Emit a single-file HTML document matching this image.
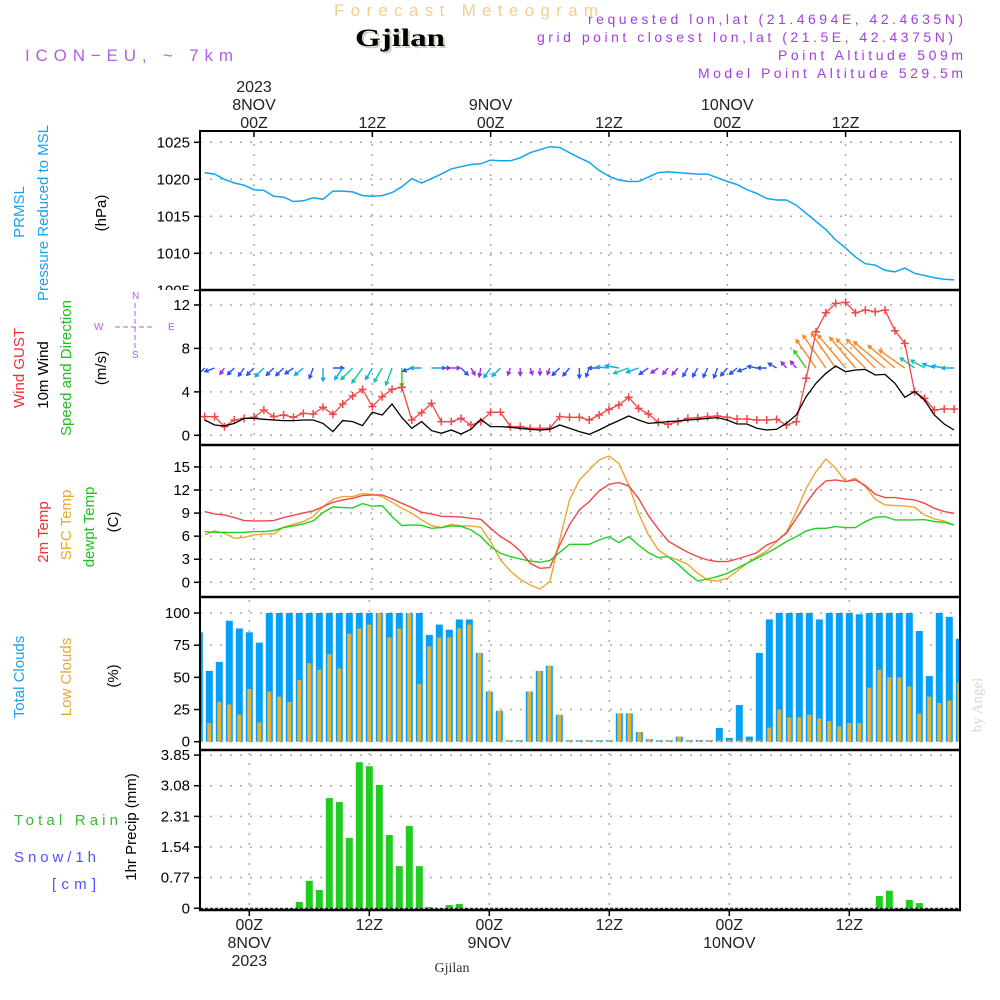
<!DOCTYPE html>
<html><head><meta charset="utf-8"><style>
html,body{margin:0;padding:0;background:#fff;}
svg{display:block;font-family:"Liberation Sans",sans-serif;}
</style></head><body>
<svg id="chart" width="1000" height="1000" viewBox="0 0 1000 1000" xmlns="http://www.w3.org/2000/svg">
<defs>
<clipPath id="plotclip"><rect x="200" y="131" width="760" height="780"/></clipPath>
<clipPath id="pclip"><rect x="150" y="120" width="60" height="170"/></clipPath>
</defs>
<g>
<text x="334" y="16" font-size="17" fill="#f2cf8c" textLength="264" lengthAdjust="spacing">Forecast Meteogram</text>
<text x="357" y="48" font-size="25" font-weight="bold" font-family="Liberation Serif,serif" fill="#c8d4c0" textLength="90" lengthAdjust="spacingAndGlyphs">Gjilan</text>
<text x="355" y="46" font-size="25" font-weight="bold" font-family="Liberation Serif,serif" fill="#000" textLength="90" lengthAdjust="spacingAndGlyphs">Gjilan</text>
<text x="25" y="61" font-size="17" fill="#b060e8" textLength="208" lengthAdjust="spacing">ICON−EU, ~ 7km</text>
<text x="588" y="24" font-size="14" fill="#a040e0" textLength="375" lengthAdjust="spacing">requested lon,lat (21.4694E, 42.4635N)</text>
<text x="537" y="42" font-size="14" fill="#a040e0" textLength="416" lengthAdjust="spacing">grid point closest lon,lat (21.5E, 42.4375N)</text>
<text x="778" y="60" font-size="14" fill="#a040e0" textLength="185" lengthAdjust="spacing">Point Altitude 509m</text>
<text x="698" y="78" font-size="14" fill="#a040e0" textLength="265" lengthAdjust="spacing">Model Point Altitude 529.5m</text>
</g>
<g font-size="15">
<text transform="translate(24,212) rotate(-90)" text-anchor="middle" fill="#1aa0f0">PRMSL</text>
<text transform="translate(48,213) rotate(-90)" text-anchor="middle" fill="#1aa0f0">Pressure Reduced to MSL</text>
<text transform="translate(106,213) rotate(-90)" text-anchor="middle" fill="#000">(hPa)</text>
<text transform="translate(24,368) rotate(-90)" text-anchor="middle" fill="#f03030">Wind GUST</text>
<text transform="translate(48,375) rotate(-90)" text-anchor="middle" fill="#000">10m Wind</text>
<text transform="translate(71,368) rotate(-90)" text-anchor="middle" fill="#20c020">Speed and Direction</text>
<text transform="translate(106,368) rotate(-90)" text-anchor="middle" fill="#000">(m/s)</text>
<text transform="translate(48,532) rotate(-90)" text-anchor="middle" fill="#f03030">2m Temp</text>
<text transform="translate(71,525) rotate(-90)" text-anchor="middle" fill="#e8a830">SFC Temp</text>
<text transform="translate(94,527) rotate(-90)" text-anchor="middle" fill="#20c020">dewpt Temp</text>
<text transform="translate(118,522) rotate(-90)" text-anchor="middle" fill="#000">(C)</text>
<text transform="translate(24,677) rotate(-90)" text-anchor="middle" fill="#1aa0f0">Total Clouds</text>
<text transform="translate(71,677) rotate(-90)" text-anchor="middle" fill="#e8a830">Low Clouds</text>
<text transform="translate(118,676) rotate(-90)" text-anchor="middle" fill="#000">(%)</text>
<text transform="translate(136,827) rotate(-90)" text-anchor="middle" fill="#000">1hr Precip (mm)</text>
<text x="14" y="825" fill="#30c030" textLength="104" lengthAdjust="spacing">Total   Rain</text>
<text x="14" y="862" fill="#5050ff" textLength="82" lengthAdjust="spacing">Snow/1h</text>
<text x="52" y="889" fill="#5050ff" textLength="44" lengthAdjust="spacing">[cm]</text>
<g fill="#b060e8" stroke="#b060e8" font-size="10">
<text x="94" y="330" stroke="none">W</text>
<text x="168" y="330" stroke="none">E</text>
<text x="132" y="299" stroke="none">N</text>
<text x="132" y="358" stroke="none">S</text>
<line x1="115" y1="327" x2="155" y2="327" stroke-dasharray="5,3"/>
<line x1="135" y1="303" x2="135" y2="348" stroke-dasharray="5,3"/>
</g>
</g>
<text transform="translate(982,705) rotate(-90)" text-anchor="middle" font-size="15" font-family="Liberation Serif,serif" fill="#d8d8d8">by Angel</text>
<text x="452" y="972" text-anchor="middle" font-size="14" font-family="Liberation Serif,serif" fill="#333">Gjilan</text>
<g id="grid"></g>
<g id="marks" clip-path="url(#plotclip)"></g>
<g id="axes"></g>
</svg>
<script>
// ---------- DATA ----------
const pressure = [1020.9,1020.7,1020.0,1019.5,1019.2,1018.6,1018.5,1017.7,1017.6,1017.0,1017.1,1017.5,1017.3,1018.4,1018.4,1018.3,1017.8,1017.7,1017.8,1018.2,1019.0,1020.1,1019.5,1020.1,1020.7,1021.4,1021.7,1022.0,1022.1,1022.6,1022.5,1022.5,1022.9,1023.6,1024.0,1024.4,1024.3,1023.6,1022.9,1022.3,1021.2,1020.4,1019.9,1019.7,1019.7,1020.3,1020.9,1021.0,1020.9,1020.8,1020.7,1020.7,1020.2,1019.7,1019.3,1018.6,1018.1,1017.4,1017.2,1017.2,1016.5,1015.4,1014.3,1013.2,1011.8,1010.7,1009.5,1008.6,1008.4,1007.7,1007.5,1008.0,1007.3,1007.0,1006.7,1006.5,1006.4];
const gust = [1.72,1.72,0.80,1.41,1.56,1.66,2.33,1.72,1.87,1.66,2.02,1.96,2.58,1.93,2.88,3.62,4.23,2.64,3.56,4.23,4.42,1.41,2.09,2.94,1.26,1.26,1.56,0.95,1.26,2.12,2.12,0.80,0.80,0.64,0.64,0.64,1.72,1.66,1.66,
1.41,1.87,2.39,2.79,3.50,2.48,1.96,1.20,1.01,1.26,1.56,1.62,1.72,1.78,1.66,1.50,1.50,1.41,1.41,1.47,0.95,1.26,5.25,9.54,11.29,12.15,12.24,11.29,11.53,11.38,11.53,9.63,8.47,4.02,3.40,2.33,2.42,2.42];
const wind = [1.41,0.95,0.86,1.10,1.56,1.56,1.47,1.41,1.35,1.35,1.41,1.41,1.10,0.34,1.35,1.26,0.89,2.12,1.87,2.88,1.63,0.64,1.26,0.43,0.18,0.49,0.12,0.55,1.47,0.80,0.80,0.74,0.64,0.55,0.49,0.55,0.95,0.64,0.34,
0.09,0.49,0.95,1.35,1.78,1.41,1.10,1.17,1.26,1.32,1.41,1.47,1.56,1.63,1.41,1.04,1.04,0.64,0.49,0.55,1.10,1.87,3.56,4.79,5.71,6.38,5.86,6.01,6.07,5.55,5.61,4.79,3.50,4.02,3.25,1.87,1.04,0.49];
const windDir = [225,250,215,225,215,225,225,225,225,235,230,200,180,90,215,225,215,210,210,200,180,250,270,90,90,90,135,150,190,215,225,200,180,160,180,200,225,220,180,
200,270,275,280,250,250,235,235,220,220,210,210,205,200,220,230,250,280,270,300,320,320,325,325,325,325,320,320,315,315,310,310,305,305,300,290,280,270];
const temp2m = [9.19,8.89,8.76,8.41,8.02,7.98,7.98,8.02,8.41,8.71,9.02,9.28,9.84,10.40,10.71,10.92,11.27,11.36,11.36,10.84,10.27,9.71,9.10,8.89,8.58,8.54,8.50,8.32,8.19,7.02,5.94,5.16,4.07,2.47,1.82,1.91,4.85,7.46,9.41,
10.49,11.88,12.74,12.96,12.53,10.92,8.67,6.94,5.37,4.59,3.90,3.34,2.90,2.69,2.69,3.03,3.42,3.86,4.85,5.37,6.37,8.32,10.27,12.01,13.18,13.31,13.09,13.31,12.57,11.44,11.01,11.01,10.84,10.71,10.27,9.62,9.19,8.97];
const tempSfc = [6.16,6.68,6.37,5.72,5.85,6.16,6.29,6.29,7.15,7.54,7.89,8.54,9.84,10.79,11.14,11.14,11.53,11.44,11.14,10.40,9.62,8.97,8.11,7.37,7.11,7.54,7.33,7.33,7.15,5.29,2.90,1.47,0.39,-0.35,-0.87,0.09,5.50,10.71,13.31,
14.61,15.91,16.43,15.48,12.66,8.97,6.16,4.20,3.34,2.90,2.34,1.17,0.30,0.17,0.52,1.47,2.47,3.34,4.07,5.29,6.50,9.19,12.22,14.39,16.04,14.83,13.09,13.52,12.44,10.79,10.06,9.97,9.93,9.75,8.76,8.24,7.98,7.46];
const dewpt = [6.59,6.50,6.50,6.46,6.50,6.59,6.59,6.72,7.11,7.33,7.59,7.98,9.06,9.80,9.71,9.67,10.23,9.88,9.97,8.54,7.37,7.46,7.41,7.02,7.11,7.33,7.28,6.81,5.94,4.64,3.77,3.34,3.03,2.77,2.60,2.82,3.90,4.94,4.94,
4.94,5.50,5.94,5.16,5.94,4.85,3.86,3.21,3.34,2.34,1.17,0.17,0.43,0.74,1.17,1.82,2.47,3.12,3.77,4.51,5.29,5.94,6.68,7.02,7.02,7.24,7.11,7.11,7.89,8.45,8.54,8.11,8.11,8.11,8.15,7.89,7.80,7.46];
const totalClouds = [85,55,62,94,88,85,77,100,100,100,100,100,100,100,100,100,100,100,100,100,100,100,100,83,91,87,95,95,69,39,24,0,0,39,55,59,21,0,0,0,0,0,22,22,7.5,2,0,0,4,0,1.3,0,10.6,3,28.5,4,69,95,100,100,100,100,95,100,100,100,99,100,100,100,100,100,86,51,100,97,80];
const lowClouds = [13,14.5,31,29,21,41,15,39,35,31,48,61,56,68,57,84,88,91,100,81,88,100,45,74,81,81,88,91,69,39,24,0,0,39,55,59,21,0,0,0,0,0,22,22,7.5,2,0,0,4,0,0,0,0,0,0,0,0,11,25,19,19,21,18,16,12,14.5,14.5,42,56,50,50,43,22,35,30,32,46];
const precip = [0,0,0,0,0,0,0,0,0,0,0.16,0.69,0.46,2.77,2.67,1.77,3.67,3.57,3.10,1.84,1.06,2.07,1.06,0.03,0,0.08,0.11,0,0,0,0,0,0,0,0,0,0,0,0,0,0,0,0,0,0,0,0,0,0,0,0,0,0,0,0,0,0,0,0,0,0,0,0,0,0,0,0,0,0.31,0.44,0,0.21,0.13,0,0,0,0];
const pressureTicks = [1025,1020,1015,1010,1005];
const windTicks = [12,8,4,0];
const tempTicks = [15,12,9,6,3,0];
const cloudTicks = [100,75,50,25,0];
const precipTicks = ["3.85","3.08","2.31","1.54","0.77","0"];
const timeTickHours = [0,12,24,36,48,60];
const timeTickLabels = ["00Z","12Z","00Z","12Z","00Z","12Z"];
const dateLabels = ["8NOV","","9NOV","","10NOV",""];
const FIRST_HOUR = -5;

// ---------- SCALES ----------
const xT = t => 254 + 9.86*t;          // line series time axis
const xB = h => 249.3 + 10*h;          // hourly bar time axis
const yP = v => 142.3 + (1025 - v)*7.4;
const yW = v => 435.3 - v*10.86;
const yT = v => 582.3 - v*7.69;
const yC = v => 741.7 - v*1.287;
const yR = v => 908.3 - v*39.8;

const NS = "http://www.w3.org/2000/svg";
function mk(parent, tag, attrs, txt){
  const e = document.createElementNS(NS, tag);
  for (const k in attrs) e.setAttribute(k, attrs[k]);
  if (txt !== undefined) e.textContent = txt;
  parent.appendChild(e);
  return e;
}
const grid = document.getElementById('grid');
const marks = document.getElementById('marks');
const axes = document.getElementById('axes');

// panel backgrounds / grids
const panels = [
  {top:131,bot:290,ticks:pressureTicks,y:yP,name:'pressure',fmt:v=>String(v),vx:'upper'},
  {top:290,bot:445,ticks:windTicks,y:yW,name:'wind',fmt:v=>String(v),vx:'upper'},
  {top:445,bot:597,ticks:tempTicks,y:yT,name:'temp',fmt:v=>String(v),vx:'upper'},
  {top:597,bot:750,ticks:cloudTicks,y:yC,name:'cloud',fmt:v=>String(v),vx:'lower'},
  {top:750,bot:910,ticks:precipTicks.map(Number),y:yR,name:'precip',fmt:(v,i)=>precipTicks[i],vx:'lower'}
];
panels.forEach(p=>{
  p.ticks.forEach((v,i)=>{
    const y = p.y(v);
    if (y > p.top+2 && y < p.bot-2) {
      const gl = mk(grid,'line',{x1:200,x2:960,y1:y,y2:y,stroke:'#aaa','stroke-width':1.5,'stroke-dasharray':'2,8'});
      
      
    }
    const tk = mk(axes,'line',{x1:194,x2:200,y1:y,y2:y,stroke:'#000','stroke-width':1.5});
    
    
    const lbl = mk(axes,'text',{x:190,y:y+5,'text-anchor':'end','font-size':15,fill:'#000','clip-path':p.name==='pressure'?'url(#pclip)':''}, p.fmt(v,i));
    
    
  });
  timeTickHours.forEach(h=>{
    const x = p.vx==='upper' ? xT(h) : xB(h);
    const vl = mk(grid,'line',{x1:x,x2:x,y1:p.top+3,y2:p.bot-2,stroke:'#aaa','stroke-width':1.5,'stroke-dasharray':'2,8'});
    
    
  });
});

// time labels top/bottom
timeTickHours.forEach((h,i)=>{
  const x = xT(h);
  const t1 = mk(axes,'text',{x:x,y:128,'text-anchor':'middle','font-size':16,fill:'#222'}, timeTickLabels[i]);
  
  
  if (dateLabels[i]) {
    const d1 = mk(axes,'text',{x:x,y:110,'text-anchor':'middle','font-size':16,fill:'#222'}, dateLabels[i]);
    
    
  }
  const tk = mk(axes,'line',{x1:x,x2:x,y1:131,y2:137,stroke:'#000','stroke-width':1.5});
  
  
  const xb = xB(h);
  const t2 = mk(axes,'text',{x:xb,y:930,'text-anchor':'middle','font-size':16,fill:'#222'}, timeTickLabels[i]);
  
  
  if (dateLabels[i]) {
    const d2 = mk(axes,'text',{x:xb,y:948,'text-anchor':'middle','font-size':16,fill:'#222'}, dateLabels[i]);
    
    
  }
  const bt = mk(axes,'line',{x1:xb,x2:xb,y1:910,y2:916,stroke:'#000','stroke-width':1.5});
  
  
});
const y1 = mk(axes,'text',{x:xT(0),y:92,'text-anchor':'middle','font-size':16,fill:'#222'},'2023');


const y2 = mk(axes,'text',{x:xB(0),y:966,'text-anchor':'middle','font-size':16,fill:'#222'},'2023');



// ---------- SERIES ----------
function linePath(arr, yf){
  return arr.map((v,i)=>(i?'L':'M')+xT(i+FIRST_HOUR).toFixed(1)+','+yf(v).toFixed(1)).join(' ');
}
const pl = mk(marks,'path',{d:linePath(pressure,yP),fill:'none',stroke:'#12a4f4','stroke-width':1.5});



// wind arrows
function arrowColor(g){
  if (g < 1.3) return '#9a2ee0';
  if (g < 2.0) return '#2a50f0';
  if (g < 3.0) return '#10a8f0';
  if (g < 4.3) return '#10c8a0';
  if (g < 5.5) return '#30d020';
  if (g < 8) return '#d8d820';
  return '#f58a28';
}
windDir.forEach((d,i)=>{
  const x = xT(i+FIRST_HOUR), y = 368;
  const L = 5 + gust[i]*3.1;
  const a = d*Math.PI/180;
  const hx = x + L*Math.sin(a), hy = y - L*Math.cos(a);
  const col = arrowColor(gust[i]);
  const h = 4;
  const p1x = hx - h*Math.sin(a-0.5), p1y = hy + h*Math.cos(a-0.5);
  const p2x = hx - h*Math.sin(a+0.5), p2y = hy + h*Math.cos(a+0.5);
  const ar = mk(marks,'path',{d:`M${x},${y} L${hx},${hy} M${p1x},${p1y} L${hx},${hy} L${p2x},${p2y}`,fill:'none',stroke:col,'stroke-width':1.4});
  
  
});
const gl = mk(marks,'path',{d:linePath(gust,yW),fill:'none',stroke:'#f04848','stroke-width':1.3});


gust.forEach((v,i)=>{
  const x = xT(i+FIRST_HOUR), y = yW(v);
  const m = mk(marks,'path',{d:`M${x-4},${y} H${x+4} M${x},${y-4} V${y+4}`,stroke:'#f04848','stroke-width':1.5});
  
  
});
const wl = mk(marks,'path',{d:linePath(wind,yW),fill:'none',stroke:'#000','stroke-width':1.3});



const tsl = mk(marks,'path',{d:linePath(tempSfc,yT),fill:'none',stroke:'#e8a830','stroke-width':1.4});


const tdl = mk(marks,'path',{d:linePath(dewpt,yT),fill:'none',stroke:'#20d020','stroke-width':1.4});


const t2l = mk(marks,'path',{d:linePath(temp2m,yT),fill:'none',stroke:'#f04848','stroke-width':1.4});



// clouds
totalClouds.forEach((v,i)=>{
  const h = i+FIRST_HOUR, x = xB(h);
  const top = Math.min(yC(v), yC(0)-1.5);
  const b = mk(marks,'rect',{x:x-3.5,y:top,width:7,height:yC(0)-top,fill:'#04a0f8'});
  
  
  const lv = lowClouds[i];
  const lt = Math.min(yC(lv), yC(0)-1.5);
  const lb = mk(marks,'rect',{x:x-2,y:lt,width:4,height:yC(0)-lt,fill:'#e8b030'});
  
  
});
// precip
precip.forEach((v,i)=>{
  if (v <= 0) return;
  const x = xB(i+FIRST_HOUR);
  const b = mk(marks,'rect',{x:x-3.5,y:yR(v),width:7,height:yR(0)-yR(v),fill:'#20cc20'});
  
  
});
const base = mk(marks,'line',{x1:200,x2:960,y1:908.5,y2:908.5,stroke:'#333','stroke-width':1.5,'stroke-dasharray':'3,2'});



// frames
const frame = mk(axes,'rect',{x:200,y:131,width:760,height:779,fill:'none',stroke:'#000','stroke-width':2});


[290,445,597,750].forEach(y=>{
  const s = mk(axes,'line',{x1:199,x2:961,y1:y,y2:y,stroke:'#000','stroke-width':2.5});
  
  
});
const bot = mk(axes,'line',{x1:199,x2:961,y1:910,y2:910,stroke:'#000','stroke-width':2.5});


</script>
</body></html>
